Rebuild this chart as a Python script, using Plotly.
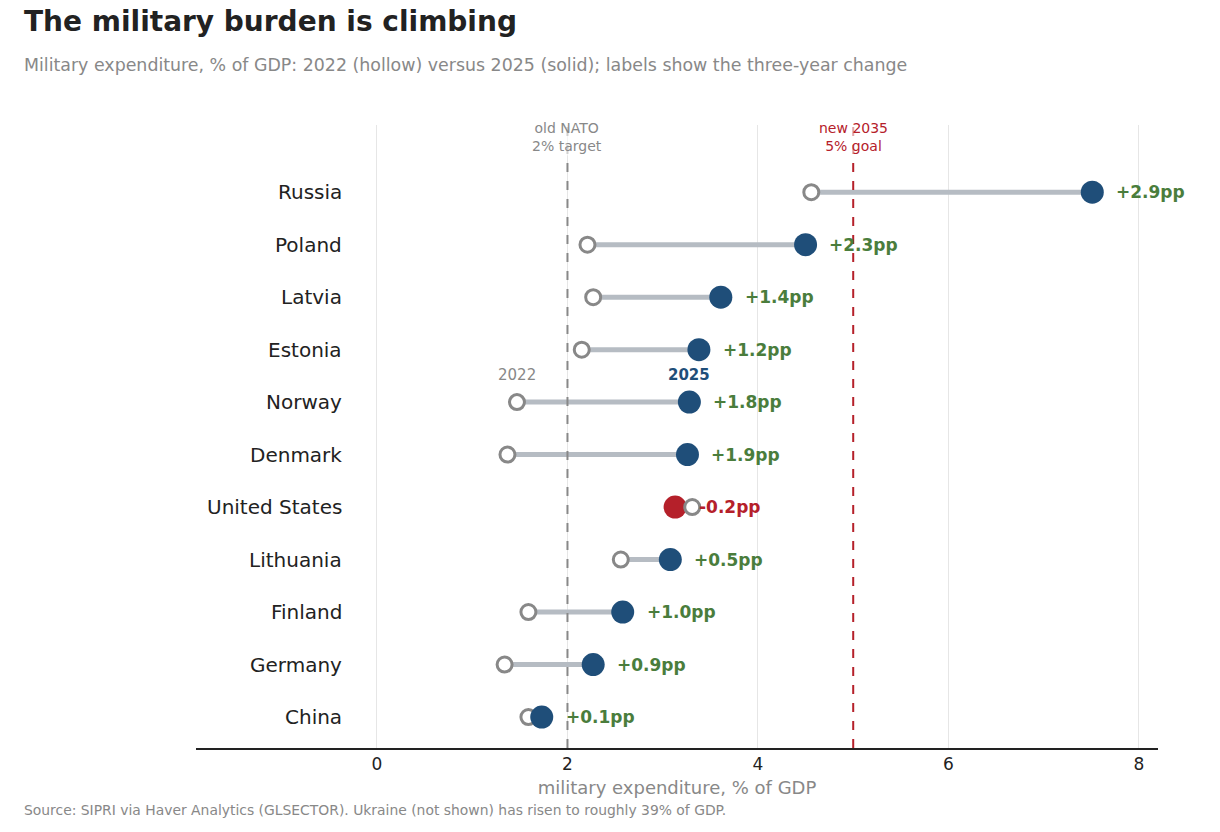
import plotly.graph_objects as go

# data, top to bottom as drawn
countries = ["Russia", "Poland", "Latvia", "Estonia", "Norway", "Denmark",
             "United States", "Lithuania", "Finland", "Germany", "China"]
gdp_2022 = [4.56, 2.21, 2.27, 2.15, 1.47, 1.37, 3.31, 2.56, 1.59, 1.34, 1.59]
gdp_2025 = [7.51, 4.50, 3.61, 3.38, 3.28, 3.26, 3.13, 3.08, 2.58, 2.27, 1.73]
change_labels = ["+2.9pp", "+2.3pp", "+1.4pp", "+1.2pp", "+1.8pp", "+1.9pp",
                 "-0.2pp", "+0.5pp", "+1.0pp", "+0.9pp", "+0.1pp"]
x_ticks = [0, 2, 4, 6, 8]

BLUE = "#1f4e79"
RED = "#b5202a"
GREEN = "#4a7d3c"
GREY = "#888888"
LINE = "#b6bcc3"
FONT = "DejaVu Sans"

# page is drawn with an 8px body offset, so margins are pulled back by 8
OFF = 8
W, H = 1220, 832
ML, MT = 196 - OFF, 125 - OFF
PW, PH = 962, 623
MR, MB = W - ML - PW, H - MT - PH


def px_x(p):
    # reference pixel -> paper x
    return (p - OFF - ML) / PW


def px_y(p):
    # reference pixel -> paper y
    return (MT + PH - (p - OFF)) / PH


n = len(countries)
ypos = [n - 1 - i for i in range(n)]

fig = go.Figure()

# connectors
for i in range(n):
    fig.add_trace(go.Scatter(x=[gdp_2022[i], gdp_2025[i]], y=[ypos[i], ypos[i]],
                             mode="lines", line=dict(color=LINE, width=5),
                             hoverinfo="skip", showlegend=False))

up = [i for i in range(n) if gdp_2025[i] >= gdp_2022[i]]
down = [i for i in range(n) if gdp_2025[i] < gdp_2022[i]]

# risers: hollow first, solid on top
fig.add_trace(go.Scatter(x=[gdp_2022[i] for i in up], y=[ypos[i] for i in up], mode="markers",
                         marker=dict(size=15, color="white", line=dict(color=GREY, width=3)),
                         showlegend=False))
fig.add_trace(go.Scatter(x=[gdp_2025[i] for i in up], y=[ypos[i] for i in up], mode="markers",
                         marker=dict(size=23, color=BLUE, line=dict(width=0)),
                         showlegend=False))
# fallers: solid red first, hollow on top
fig.add_trace(go.Scatter(x=[gdp_2025[i] for i in down], y=[ypos[i] for i in down], mode="markers",
                         marker=dict(size=23, color=RED, line=dict(width=0)),
                         showlegend=False))
fig.add_trace(go.Scatter(x=[gdp_2022[i] for i in down], y=[ypos[i] for i in down], mode="markers",
                         marker=dict(size=15, color="white", line=dict(color=GREY, width=3)),
                         showlegend=False))

# reference lines
fig.add_shape(type="line", x0=2, x1=2, y0=0, y1=1, yref="paper",
              line=dict(color=GREY, width=2, dash="dash"), layer="above")
fig.add_shape(type="line", x0=5, x1=5, y0=0, y1=1, yref="paper",
              line=dict(color=RED, width=2, dash="dash"), layer="above")

annotations = []
for i in range(n):
    annotations.append(dict(x=-0.35, y=ypos[i], text=countries[i], showarrow=False,
                            xanchor="right", yanchor="middle",
                            font=dict(family=FONT, size=20, color="#222222")))
    col = GREEN if gdp_2025[i] >= gdp_2022[i] else RED
    annotations.append(dict(x=gdp_2025[i] + 0.23, y=ypos[i], text="<b>" + change_labels[i] + "</b>",
                            showarrow=False, xanchor="left", yanchor="middle",
                            font=dict(family=FONT, size=17, color=col)))

annotations += [
    dict(x=2, y=11.05, text="old NATO<br>2% target", showarrow=False, yanchor="middle",
         font=dict(family=FONT, size=14, color=GREY), bgcolor="rgba(255,255,255,0.6)"),
    dict(x=5, y=11.05, text="new 2035<br>5% goal", showarrow=False, yanchor="middle",
         font=dict(family=FONT, size=14, color=RED), bgcolor="rgba(255,255,255,0.6)"),
    dict(x=gdp_2022[4], y=ypos[4] + 0.52, text="2022", showarrow=False,
         font=dict(family=FONT, size=15, color=GREY)),
    dict(x=gdp_2025[4], y=ypos[4] + 0.52, text="<b>2025</b>", showarrow=False,
         font=dict(family=FONT, size=15, color=BLUE)),
    dict(x=px_x(22), y=px_y(65), xref="paper", yref="paper", xanchor="left", yanchor="middle",
         text="Military expenditure, % of GDP: 2022 (hollow) versus 2025 (solid); labels show the three-year change",
         showarrow=False, font=dict(family=FONT, size=17.4, color=GREY)),
    dict(x=px_x(22), y=px_y(810), xref="paper", yref="paper", xanchor="left", yanchor="middle",
         text="Source: SIPRI via Haver Analytics (GLSECTOR). Ukraine (not shown) has risen to roughly 39% of GDP.",
         showarrow=False, font=dict(family=FONT, size=13.9, color=GREY)),
]

fig.update_layout(
    width=W, height=H,
    margin=dict(l=ML, r=MR, t=MT, b=MB),
    plot_bgcolor="white", paper_bgcolor="white",
    font=dict(family=FONT, color="#222222"),
    title=dict(text="<b>The military burden is climbing</b>", x=(24 - OFF) / W, xanchor="left",
               y=1 - (21 - OFF) / H, yanchor="middle",
               font=dict(family=FONT, size=28, color="#222222")),
    annotations=annotations,
    hovermode=False,
    xaxis=dict(range=[-1.9, 8.2], tickvals=x_ticks, showgrid=True, gridcolor="#e6e6e6", gridwidth=1,
               zeroline=False, showline=True, linecolor="#222222", linewidth=1.5,
               tickfont=dict(family=FONT, size=17, color="#222222"),
               title=dict(text="military expenditure, % of GDP", standoff=8,
                          font=dict(family=FONT, size=18, color=GREY))),
    yaxis=dict(range=[-0.59, 11.28], showticklabels=False, showgrid=False, zeroline=False),
)

fig.write_html("out.html")
